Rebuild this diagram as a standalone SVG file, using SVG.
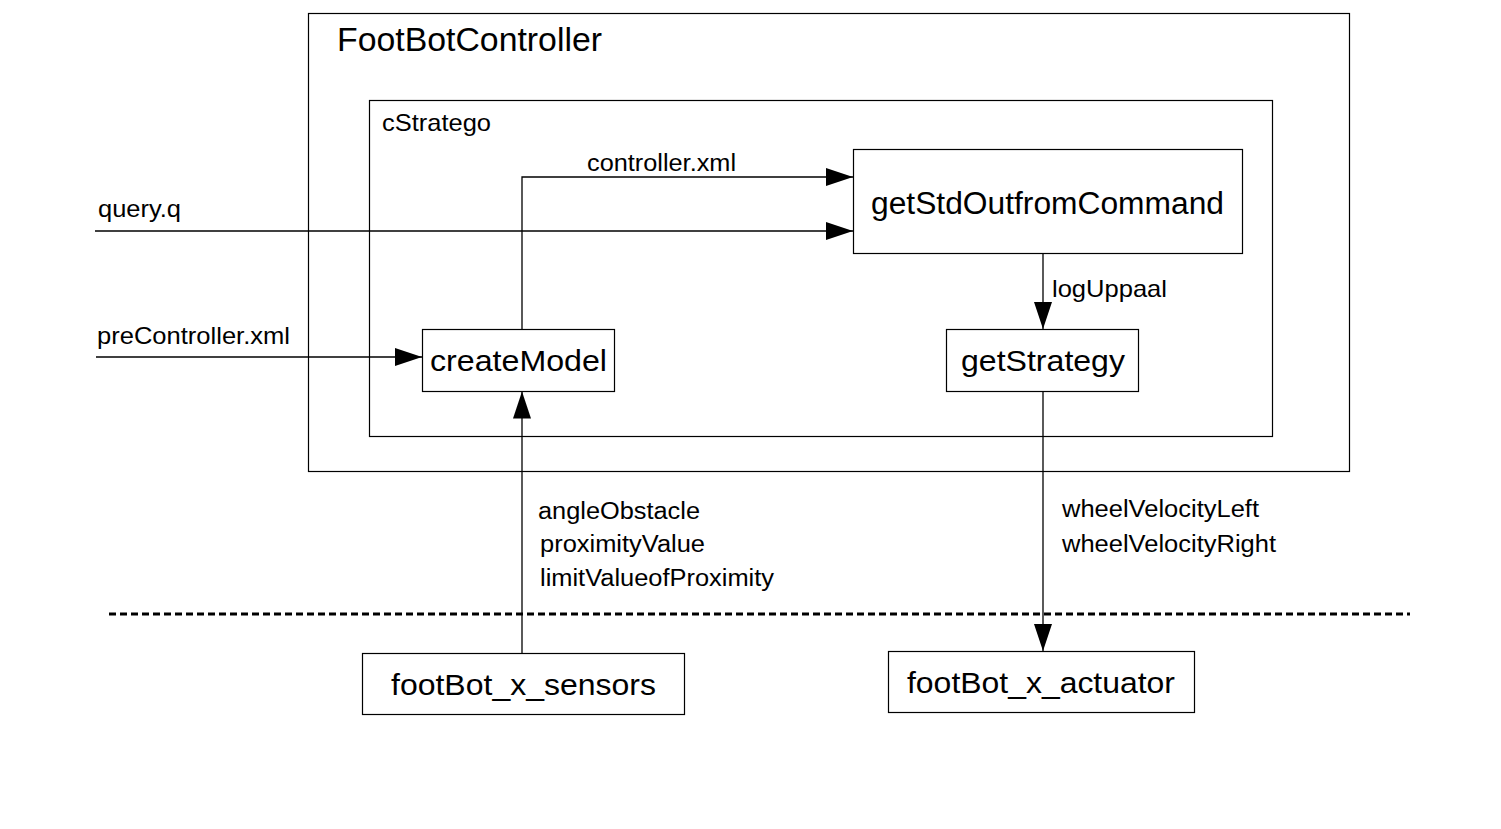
<svg xmlns="http://www.w3.org/2000/svg" width="1501" height="829" viewBox="0 0 1501 829">
<style>
  .box { fill: #ffffff; stroke: #000000; stroke-width: 1.2; }
  .frame { fill: none; stroke: #000000; stroke-width: 1.2; }
  .t { font-family: "Liberation Sans", Arial, sans-serif; fill: #000000; }
  .conn { fill: none; stroke: #000000; stroke-width: 1.3; }
  .dash { fill: none; stroke: #000000; stroke-width: 3; stroke-dasharray: 7 4; }
</style>
<defs>
  <marker id="arrow" markerUnits="userSpaceOnUse" markerWidth="27" markerHeight="18" refX="27" refY="9" orient="auto">
    <path d="M0,0 L27,9 L0,18 Z" fill="#000000"/>
  </marker>
</defs>
<rect width="1501" height="829" fill="#ffffff"/>

<g id="FootBotController">
  <rect class="frame" x="308.5" y="13.5" width="1041" height="458"/>
  <text class="t" x="337" y="51" font-size="33" textLength="265" lengthAdjust="spacingAndGlyphs">FootBotController</text>
</g>

<g id="cStratego">
  <rect class="frame" x="369.5" y="100.5" width="903" height="336"/>
  <text class="t" x="382" y="131" font-size="24" textLength="109" lengthAdjust="spacingAndGlyphs">cStratego</text>
</g>

<g id="getStdOutfromCommand">
  <rect class="box" x="853.5" y="149.5" width="389" height="104"/>
  <text class="t" x="871" y="214" font-size="31" textLength="353" lengthAdjust="spacingAndGlyphs">getStdOutfromCommand</text>
</g>

<g id="createModel">
  <rect class="box" x="422.5" y="329.5" width="192" height="62"/>
  <text class="t" x="430" y="371" font-size="30" textLength="177" lengthAdjust="spacingAndGlyphs">createModel</text>
</g>

<g id="getStrategy">
  <rect class="box" x="946.5" y="329.5" width="192" height="62"/>
  <text class="t" x="961" y="371" font-size="30" textLength="164" lengthAdjust="spacingAndGlyphs">getStrategy</text>
</g>

<g id="footBot_x_sensors">
  <rect class="box" x="362.5" y="653.5" width="322" height="61"/>
  <text class="t" x="391" y="695" font-size="30" textLength="265" lengthAdjust="spacingAndGlyphs">footBot_x_sensors</text>
</g>

<g id="footBot_x_actuator">
  <rect class="box" x="888.5" y="651.5" width="306" height="61"/>
  <text class="t" x="907" y="693" font-size="30" textLength="268" lengthAdjust="spacingAndGlyphs">footBot_x_actuator</text>
</g>

<g id="connectors">
  <path class="conn" d="M522,329.5 L522,177 L853,177" marker-end="url(#arrow)"/>
  <text class="t" x="587" y="171" font-size="23" textLength="149" lengthAdjust="spacingAndGlyphs">controller.xml</text>

  <path class="conn" d="M95,231 L853,231" marker-end="url(#arrow)"/>
  <text class="t" x="98" y="217" font-size="24" textLength="83" lengthAdjust="spacingAndGlyphs">query.q</text>

  <path class="conn" d="M96,357 L422,357" marker-end="url(#arrow)"/>
  <text class="t" x="97" y="344" font-size="24" textLength="193" lengthAdjust="spacingAndGlyphs">preController.xml</text>

  <path class="conn" d="M1043,253.5 L1043,329" marker-end="url(#arrow)"/>
  <text class="t" x="1052" y="297" font-size="24" textLength="115" lengthAdjust="spacingAndGlyphs">logUppaal</text>

  <path class="conn" d="M522,653 L522,391.5" marker-end="url(#arrow)"/>
  <text class="t" x="538" y="519" font-size="23" textLength="162" lengthAdjust="spacingAndGlyphs">angleObstacle</text>
  <text class="t" x="540" y="552" font-size="23" textLength="165" lengthAdjust="spacingAndGlyphs">proximityValue</text>
  <text class="t" x="540" y="586" font-size="23" textLength="234" lengthAdjust="spacingAndGlyphs">limitValueofProximity</text>

  <path class="conn" d="M1043,391.5 L1043,651" marker-end="url(#arrow)"/>
  <text class="t" x="1062" y="517" font-size="23" textLength="197" lengthAdjust="spacingAndGlyphs">wheelVelocityLeft</text>
  <text class="t" x="1062" y="552" font-size="23" textLength="214" lengthAdjust="spacingAndGlyphs">wheelVelocityRight</text>
</g>

<g id="boundary">
  <line class="dash" x1="109" y1="614" x2="1410" y2="614"/>
</g>
</svg>
